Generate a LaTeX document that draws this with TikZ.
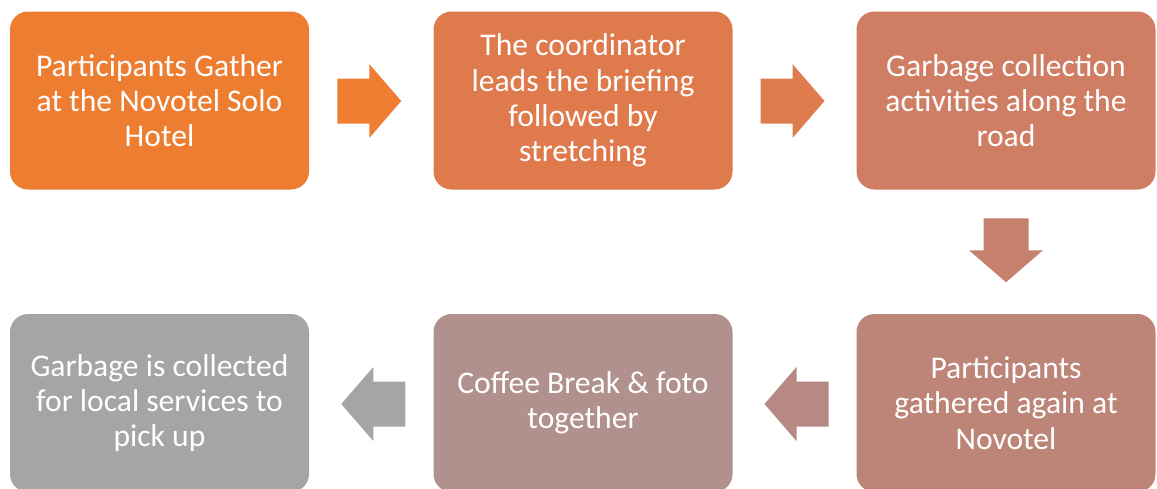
\documentclass[tikz,border=0pt]{standalone}
\usepackage{fontspec}
\setmainfont{Carlito}
\usetikzlibrary{calc}
\definecolor{cA}{RGB}{237,125,49}
\definecolor{cB}{RGB}{222,122,76}
\definecolor{cC}{RGB}{207,126,99}
\definecolor{cD}{RGB}{189,132,120}
\definecolor{cE}{RGB}{176,145,141}
\definecolor{cF}{RGB}{165,165,165}
\definecolor{aA}{RGB}{237,126,50}
\definecolor{aB}{RGB}{222,124,78}
\definecolor{aC}{RGB}{198,128,110}
\definecolor{aD}{RGB}{182,138,131}
\definecolor{aE}{RGB}{165,165,165}
\begin{document}
\begin{tikzpicture}[x=1pt,y=-1pt,
  stepbox/.style={rectangle, rounded corners=18pt, minimum width=299pt, minimum height=178pt,
    align=center, text=white, inner sep=0pt,
    font=\fontsize{31.6}{35.3}\selectfont},
  blockarr/.pic={\fill[pic actions] (-32,-22.5) -- (0,-22.5) -- (0,-37) -- (32,0) -- (0,37) -- (0,22.5) -- (-32,22.5) -- cycle;}]
\useasboundingbox (0,0) rectangle (1157,488);
\node[stepbox, fill=cA] (b1) at (159.5,100.5) {Participants Gather\\at the Novotel Solo\\Hotel};
\node[stepbox, fill=cB] (b2) at (583,100.5) {The coordinator\\leads the briefing\\followed by\\stretching};
\node[stepbox, fill=cC] (b3) at (1006,100.5) {Garbage collection\\activities along the\\road};
\node[stepbox, fill=cD] (b4) at (1006,403) {Participants\\gathered again at\\Novotel};
\node[stepbox, fill=cE] (b5) at (583,403) {Coffee Break \& foto\\together};
\node[stepbox, fill=cF] (b6) at (159.5,403) {Garbage is collected\\for local services to\\pick up};
\coordinate (m12) at ($(b1.east)!0.5!(b2.west)+(-2,0.5)$);
\coordinate (m23) at ($(b2.east)!0.5!(b3.west)+(-2,0.5)$);
\coordinate (m34) at ($(b3.south)!0.5!(b4.north)+(0,-1.5)$);
\coordinate (m45) at ($(b4.west)!0.5!(b5.east)+(2,1)$);
\coordinate (m56) at ($(b5.west)!0.5!(b6.east)+(2,1)$);
\pic[fill=aA] at (m12) {blockarr};
\pic[fill=aB] at (m23) {blockarr};
\pic[fill=aC, rotate=-90] at (m34) {blockarr};
\pic[fill=aD, rotate=180] at (m45) {blockarr};
\pic[fill=aE, rotate=180] at (m56) {blockarr};
\end{tikzpicture}
\end{document}
